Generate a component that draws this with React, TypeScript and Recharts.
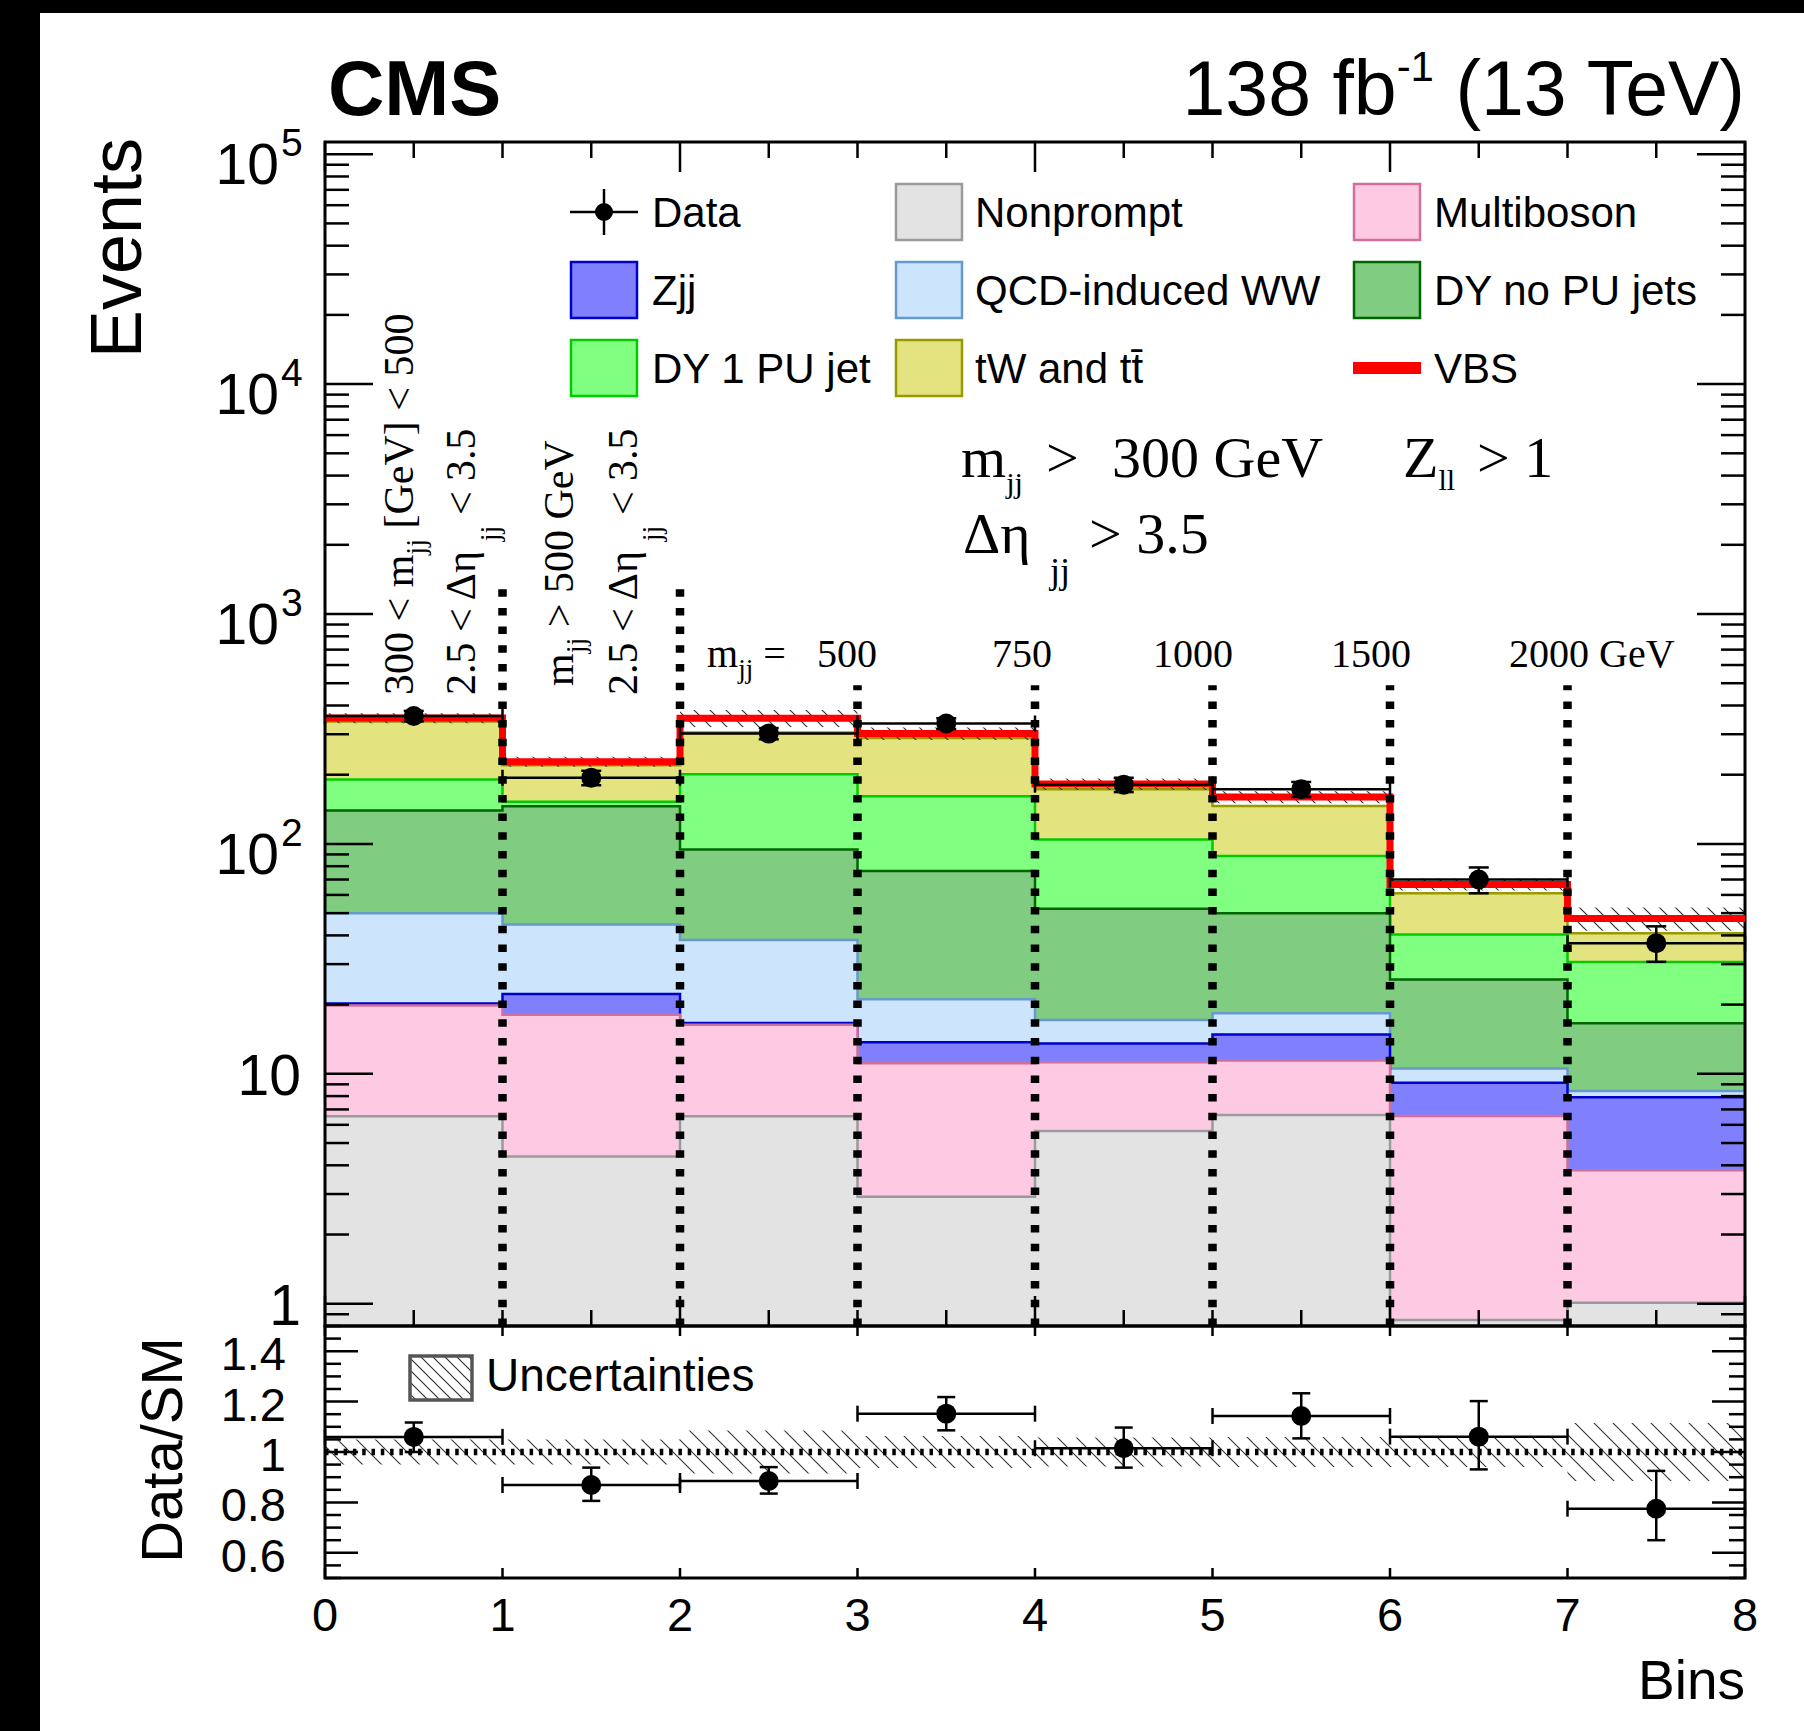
import React from 'react';
import {
  ComposedChart, Area, Line, Scatter, ErrorBar, XAxis, YAxis, ReferenceLine, ReferenceArea,
} from 'recharts';

// ---------------- data ----------------
const binLowEdges = [0, 1, 2, 3, 4, 5, 6, 7];
const nonprompt = [6.53, 4.37, 6.53, 2.92, 5.64, 6.62, 0.85, 1.01];
const multiboson = [13.3, 13.7, 9.8, 8.2, 5.6, 4.8, 5.7, 2.8];
const zjj = [0.4, 4.2, 0.3, 2.6, 2.3, 3.4, 2.6, 4.1];
const qcdWW = [29.7, 22.3, 21.6, 7.4, 3.6, 3.5, 1.4, 0.5];
const dyNoPU = [89.7, 101.3, 56.4, 55.2, 35.1, 31.6, 15.2, 8.2];
const dyOnePU = [51.0, 6.6, 106.4, 84.7, 52.3, 38.6, 14.6, 14.0];
const tWtt = [150, 67.5, 104, 128, 68.5, 57.5, 20.6, 10.3];
const vbs = [12, 8, 47, 13, 9, 14, 5.7, 6.5];

const dataCounts = [360, 194, 302, 334, 181, 173, 70, 37];
const dataErrLo = [19, 14, 17, 18, 13, 13, 9, 6.3];
const dataErrHi = [19, 14, 17, 18, 13, 13, 9, 6.8];

const ratioVals = [1.06, 0.869, 0.885, 1.152, 1.015, 1.143, 1.061, 0.775];
const ratioErrLo = [0.06, 0.063, 0.05, 0.066, 0.077, 0.089, 0.13, 0.125];
const ratioErrHi = [0.057, 0.069, 0.055, 0.066, 0.082, 0.09, 0.141, 0.15];
const relUnc = [0.05, 0.05, 0.085, 0.063, 0.058, 0.06, 0.06, 0.115];

const dividerBins = [1, 2, 3, 4, 5, 6, 7];
const dividerTops = [1370, 1370, 490, 490, 490, 490, 490];

const mainYDecades = [1, 10, 100, 1000, 10000, 100000];
const mainYLabelBase = ['1', '10', '10', '10', '10', '10'];
const mainYLabelExp = ['', '', '2', '3', '4', '5'];
const ratioYMajor = [0.6, 0.8, 1, 1.2, 1.4];
const ratioYLabels = ['0.6', '0.8', '1', '1.2', '1.4'];
const xTickLabels = ['0', '1', '2', '3', '4', '5', '6', '7', '8'];

// ---------------- layout / style ----------------
const W = 1804;
const H = 1731;
const PLOT_L = 325;
const PLOT_R = 1745;
const MAIN_T = 142;
const MAIN_B = 1326;
const RATIO_B = 1578;
const Y_MIN = 0.8;
const Y_MAX = 113000;
const R_MIN = 0.5;
const R_MAX = 1.5;
const SANS = "'Liberation Sans', Arial, Helvetica, sans-serif";
const SERIF = "'Liberation Serif', 'Times New Roman', serif";

const processes = [
  { key: 'np', label: 'Nonprompt', values: nonprompt, fill: '#e3e3e3', stroke: '#9a9a9a' },
  { key: 'mb', label: 'Multiboson', values: multiboson, fill: '#fdc9e3', stroke: '#d0709a' },
  { key: 'zjj', label: 'Zjj', values: zjj, fill: '#8080ff', stroke: '#0000cc' },
  { key: 'ww', label: 'QCD-induced WW', values: qcdWW, fill: '#cce5fc', stroke: '#6699cc' },
  { key: 'dy0', label: 'DY no PU jets', values: dyNoPU, fill: '#80cc80', stroke: '#006600' },
  { key: 'dy1', label: 'DY 1 PU jet', values: dyOnePU, fill: '#80ff80', stroke: '#00cc00' },
  { key: 'tw', label: 'tW and t\u0074\u0304', values: tWtt, fill: '#e3e380', stroke: '#999900' },
];

// step table: one row per bin edge, last edge repeats last bin
const rows = [...binLowEdges, 8].map((edge) => {
  const i = Math.min(edge, binLowEdges.length - 1);
  const row: any = { x: edge };
  let cum = 0;
  processes.forEach((p) => {
    cum += p.values[i];
    row[p.key] = cum;
  });
  cum += vbs[i];
  row.total = cum;
  row.band = [cum * (1 - relUnc[i]), cum * (1 + relUnc[i])];
  row.rband = [1 - relUnc[i], 1 + relUnc[i]];
  return row;
});

const dataPoints = binLowEdges.map((b, i) => ({
  x: b + 0.5, y: dataCounts[i], ex: 0.5, ey: [dataErrLo[i], dataErrHi[i]],
}));
const ratioPoints = binLowEdges.map((b, i) => ({
  x: b + 0.5, y: ratioVals[i], ex: 0.5, ey: [ratioErrLo[i], ratioErrHi[i]],
}));

const mainYTicks: number[] = [0.9];
mainYDecades.forEach((d) => {
  mainYTicks.push(d);
  if (d < 100000) for (let k = 2; k <= 9; k++) mainYTicks.push(d * k);
});
const halfTicks: number[] = [];
for (let k = 0; k <= 16; k++) halfTicks.push(k / 2);
const ratioYTicks: number[] = [];
for (let k = 0; k <= 20; k++) ratioYTicks.push(Math.round((0.5 + k * 0.05) * 100) / 100);

const TICK_W = 2.5;

const MainYTick = (props: any) => {
  const { y, payload } = props;
  const v = payload.value;
  const di = mainYDecades.findIndex((d) => Math.abs(d - v) < 1e-6 * d);
  const major = di >= 0;
  const len = major ? 48 : 24;
  const exp = major ? mainYLabelExp[di] : '';
  return (
    <g>
      <line x1={PLOT_L} x2={PLOT_L + len} y1={y} y2={y} stroke="#000" strokeWidth={TICK_W} />
      <line x1={PLOT_R} x2={PLOT_R - len} y1={y} y2={y} stroke="#000" strokeWidth={TICK_W} />
      {major && exp === '' && (
        <text x={301} y={y + 21} textAnchor="end" fontSize={57} fontFamily={SANS} fill="#000">{mainYLabelBase[di]}</text>
      )}
      {major && exp !== '' && (
        <g>
          <text x={279} y={y + 30} textAnchor="end" fontSize={57} fontFamily={SANS} fill="#000">{mainYLabelBase[di]}</text>
          <text x={281} y={y + 2} fontSize={39} fontFamily={SANS} fill="#000">{exp}</text>
        </g>
      )}
    </g>
  );
};

const MainXTick = (props: any) => {
  const { x, payload } = props;
  const v = payload.value;
  const len = Math.abs(v % 2) < 1e-9 ? 30 : 16;
  return (
    <g>
      <line x1={x} x2={x} y1={MAIN_B} y2={MAIN_B - len} stroke="#000" strokeWidth={TICK_W} />
      <line x1={x} x2={x} y1={MAIN_T} y2={MAIN_T + len} stroke="#000" strokeWidth={TICK_W} />
    </g>
  );
};

const RatioYTick = (props: any) => {
  const { y, payload } = props;
  const v = payload.value;
  const mi = ratioYMajor.findIndex((m) => Math.abs(m - v) < 1e-6);
  const major = mi >= 0;
  const len = major ? 33 : 16;
  return (
    <g>
      <line x1={PLOT_L} x2={PLOT_L + len} y1={y} y2={y} stroke="#000" strokeWidth={TICK_W} />
      <line x1={PLOT_R} x2={PLOT_R - len} y1={y} y2={y} stroke="#000" strokeWidth={TICK_W} />
      {major && (
        <text x={286} y={y + 19} textAnchor="end" fontSize={47} fontFamily={SANS} fill="#000">{ratioYLabels[mi]}</text>
      )}
    </g>
  );
};

const RatioXTick = (props: any) => {
  const { x, payload } = props;
  const v = payload.value;
  const isInt = Math.abs(v - Math.round(v)) < 1e-9;
  if (!isInt) return <g />;
  return (
    <g>
      <line x1={x} x2={x} y1={RATIO_B} y2={RATIO_B - 10} stroke="#000" strokeWidth={TICK_W} />
      <line x1={x} x2={x} y1={MAIN_B} y2={MAIN_B + 10} stroke="#000" strokeWidth={TICK_W} />
      <text x={x} y={1631} textAnchor="middle" fontSize={47} fontFamily={SANS} fill="#000">{xTickLabels[Math.round(v)]}</text>
    </g>
  );
};

const Dot = (props: any) => <circle cx={props.cx} cy={props.cy} r={10} fill="#000" />;

const hatchPath = (w: number) =>
  `M0,0 L${w},${w} M${w - 3},-3 L${w + 3},3 M-3,${w - 3} L3,${w + 3}`;

function Legend() {
  const colX = [570, 895, 1353];
  const txtX = [652, 975, 1434];
  const rowY = [212, 290, 368];
  const boxW = 68;
  const boxH = 56;
  const items: any[] = [
    { kind: 'data', label: 'Data' },
    { kind: 'box', p: processes[0] },
    { kind: 'box', p: processes[1] },
    { kind: 'box', p: processes[2] },
    { kind: 'box', p: processes[3] },
    { kind: 'box', p: processes[4] },
    { kind: 'box', p: processes[5] },
    { kind: 'box', p: processes[6] },
    { kind: 'vbs', label: 'VBS' },
  ];
  return (
    <g>
      {items.map((it, k) => {
        const c = k % 3;
        const r = Math.floor(k / 3);
        const cy = rowY[r];
        const x0 = colX[c];
        let sym: any = null;
        let label = it.label;
        if (it.kind === 'data') {
          sym = (
            <g>
              <line x1={x0} x2={x0 + boxW} y1={cy} y2={cy} stroke="#000" strokeWidth={2.5} />
              <line x1={x0 + boxW / 2} x2={x0 + boxW / 2} y1={cy - 23} y2={cy + 23} stroke="#000" strokeWidth={2.5} />
              <circle cx={x0 + boxW / 2} cy={cy} r={9} fill="#000" />
            </g>
          );
        } else if (it.kind === 'vbs') {
          sym = <rect x={x0} y={cy - 6} width={boxW} height={12} fill="#ff0000" />;
        } else {
          label = it.p.label;
          sym = (
            <rect x={x0 + 1} y={cy - boxH / 2} width={boxW - 2} height={boxH} fill={it.p.fill} stroke={it.p.stroke} strokeWidth={2.5} />
          );
        }
        return (
          <g key={k}>
            {sym}
            <text x={txtX[c]} y={cy + 15} fontSize={42} fontFamily={SANS} fill="#000">{label}</text>
          </g>
        );
      })}
    </g>
  );
}

function Overlay() {
  return (
    <svg width={W} height={H} style={{ position: 'absolute', left: 0, top: 0, pointerEvents: 'none' }}>
      {/* header */}
      <text x={328} y={115} fontSize={78} fontWeight="bold" fontFamily={SANS} fill="#000">CMS</text>
      <text x={PLOT_R} y={115} textAnchor="end" fontSize={77} fontFamily={SANS} fill="#000">
        138 fb
        <tspan fontSize={42} dy={-34}>-1</tspan>
        <tspan dy={34}> (13 TeV)</tspan>
      </text>
      {/* axis titles */}
      <text transform="translate(141,138) rotate(-90)" textAnchor="end" fontSize={72} fontFamily={SANS} fill="#000">Events</text>
      <text transform="translate(182,1450) rotate(-90)" textAnchor="middle" fontSize={58} fontFamily={SANS} fill="#000">Data/SM</text>
      <text x={PLOT_R} y={1699} textAnchor="end" fontSize={55} fontFamily={SANS} fill="#000">Bins</text>

      <Legend />

      {/* selection text */}
      <g fontFamily={SERIF} fill="#000">
        <text x={961} y={477} fontSize={58}>m<tspan fontSize={30} dy={16}>jj</tspan></text>
        <text x={1046} y={477} fontSize={58}>&gt;</text>
        <text x={1112} y={477} fontSize={58}>300 GeV</text>
        <text x={1403} y={477} fontSize={58}>Z<tspan fontSize={30} dy={13}>ll</tspan></text>
        <text x={1477} y={477} fontSize={58}>&gt; 1</text>
        <text x={963} y={553} fontSize={58}>{'\u0394\u03b7'}</text>
        <text x={1050} y={583} fontSize={36}>jj</text>
        <text x={1089} y={553} fontSize={58}>&gt; 3.5</text>

        {/* rotated bin-group labels */}
        <text transform="translate(413,695) rotate(-90)" fontSize={42}>
          {'300 < m'}<tspan fontSize={28} dy={12}>jj</tspan><tspan dy={-12}>{' [GeV] < 500'}</tspan>
        </text>
        <text transform="translate(475,695) rotate(-90)" fontSize={42}>
          {'2.5 < \u0394\u03b7'}<tspan fontSize={28} dx={10} dy={24}>jj</tspan><tspan dy={-24}>{' < 3.5'}</tspan>
        </text>
        <text transform="translate(573,686) rotate(-90)" fontSize={42}>
          {'m'}<tspan fontSize={28} dy={12}>jj</tspan><tspan dy={-12}>{' > 500 GeV'}</tspan>
        </text>
        <text transform="translate(637,695) rotate(-90)" fontSize={42}>
          {'2.5 < \u0394\u03b7'}<tspan fontSize={28} dx={10} dy={24}>jj</tspan><tspan dy={-24}>{' < 3.5'}</tspan>
        </text>

        {/* m_jj bin edges */}
        <text x={707} y={667} fontSize={40}>
          m<tspan fontSize={27} dy={11}>jj</tspan><tspan dy={-11}>{' ='}</tspan>
        </text>
        <text x={877} y={667} fontSize={40} textAnchor="end">500</text>
        <text x={1022} y={667} fontSize={40} textAnchor="middle">750</text>
        <text x={1193} y={667} fontSize={40} textAnchor="middle">1000</text>
        <text x={1371} y={667} fontSize={40} textAnchor="middle">1500</text>
        <text x={1509} y={667} fontSize={40}>2000 GeV</text>
      </g>

      {/* ratio legend */}
      <rect x={410} y={1356} width={62} height={44} fill="url(#hatchLeg)" stroke="#555" strokeWidth={3.5} />
      <text x={486} y={1391} fontSize={46} fontFamily={SANS} fill="#000">Uncertainties</text>
    </svg>
  );
}

export default function App() {
  return (
    <div style={{ position: 'absolute', left: 0, top: 0, width: W, height: H, background: '#fff', overflow: 'hidden' }}>
      <svg width={1} height={1} style={{ position: 'absolute', left: 0, top: 0 }}>
        <defs>
          <pattern id="hatchMain" patternUnits="userSpaceOnUse" width={16} height={16}>
            <path d={hatchPath(16)} stroke="#333" strokeWidth={1.2} fill="none" />
          </pattern>
          <pattern id="hatchRatio" patternUnits="userSpaceOnUse" width={19} height={19}>
            <path d={hatchPath(19)} stroke="#333" strokeWidth={1.1} fill="none" />
          </pattern>
          <pattern id="hatchLeg" patternUnits="userSpaceOnUse" width={12} height={12}>
            <path d={hatchPath(12)} stroke="#333" strokeWidth={1.2} fill="none" />
          </pattern>
        </defs>
      </svg>

      {/* main panel */}
      <div style={{ position: 'absolute', left: 0, top: 0 }}>
        <ComposedChart width={W} height={H} data={rows} margin={{ top: MAIN_T, right: W - PLOT_R, bottom: H - MAIN_B - 14, left: 0 }}>
          <XAxis dataKey="x" type="number" domain={[0, 8]} ticks={halfTicks} interval={0} height={14}
            axisLine={false} tickLine={false} tick={MainXTick} allowDataOverflow />
          <YAxis type="number" scale="log" domain={[Y_MIN, Y_MAX]} allowDataOverflow ticks={mainYTicks} interval={0}
            width={PLOT_L} axisLine={false} tickLine={false} tick={MainYTick} />
          {[...processes].reverse().map((p) => (
            <Area key={p.key} dataKey={p.key} type="stepAfter" fill={p.fill} fillOpacity={1} stroke={p.stroke}
              strokeWidth={2.5} baseValue={Y_MIN} dot={false} activeDot={false} isAnimationActive={false} />
          ))}
          <Line dataKey="total" type="stepAfter" stroke="#ff0000" strokeWidth={7} dot={false} activeDot={false}
            isAnimationActive={false} />
          <Area dataKey="band" type="stepAfter" fill="url(#hatchMain)" fillOpacity={1} stroke="none"
            dot={false} activeDot={false} isAnimationActive={false} />
          {dividerBins.map((b, i) => (
            <ReferenceLine key={b} segment={[{ x: b, y: Y_MIN }, { x: b, y: dividerTops[i] }]} stroke="#000"
              strokeWidth={8.5} strokeDasharray="7.5 11.2" ifOverflow="visible" />
          ))}
          <Scatter data={dataPoints} dataKey="y" fill="#000" shape={Dot} isAnimationActive={false}>
            <ErrorBar dataKey="ex" direction="x" width={8} stroke="#000" strokeWidth={2.5} />
            <ErrorBar dataKey="ey" direction="y" width={10} stroke="#000" strokeWidth={2.5} />
          </Scatter>
          <ReferenceArea x1={0} x2={8} y1={Y_MIN} y2={Y_MAX} fill="none" stroke="#000" strokeWidth={3} ifOverflow="visible" />
        </ComposedChart>
      </div>

      {/* ratio panel */}
      <div style={{ position: 'absolute', left: 0, top: 0 }}>
        <ComposedChart width={W} height={H} data={rows} margin={{ top: MAIN_B, right: W - PLOT_R, bottom: H - RATIO_B - 14, left: 0 }}>
          <XAxis dataKey="x" type="number" domain={[0, 8]} ticks={halfTicks} interval={0} height={14}
            axisLine={false} tickLine={false} tick={RatioXTick} allowDataOverflow />
          <YAxis type="number" domain={[R_MIN, R_MAX]} allowDataOverflow ticks={ratioYTicks} interval={0}
            width={PLOT_L} axisLine={false} tickLine={false} tick={RatioYTick} />
          <Area dataKey="rband" type="stepAfter" fill="url(#hatchRatio)" fillOpacity={1} stroke="none"
            dot={false} activeDot={false} isAnimationActive={false} />
          <ReferenceLine y={1} stroke="#000" strokeWidth={6.5} strokeDasharray="3.5 5.8" />
          <Scatter data={ratioPoints} dataKey="y" fill="#000" shape={Dot} isAnimationActive={false}>
            <ErrorBar dataKey="ex" direction="x" width={8} stroke="#000" strokeWidth={2.5} />
            <ErrorBar dataKey="ey" direction="y" width={9} stroke="#000" strokeWidth={2.5} />
          </Scatter>
          <ReferenceArea x1={0} x2={8} y1={R_MIN} y2={R_MAX} fill="none" stroke="#000" strokeWidth={3} ifOverflow="visible" />
        </ComposedChart>
      </div>

      <Overlay />

      {/* page frame bands */}
      <div style={{ position: 'absolute', left: 0, top: 0, width: W, height: 13, background: '#000' }} />
      <div style={{ position: 'absolute', left: 0, top: 0, width: 40, height: H, background: '#000' }} />
    </div>
  );
}
